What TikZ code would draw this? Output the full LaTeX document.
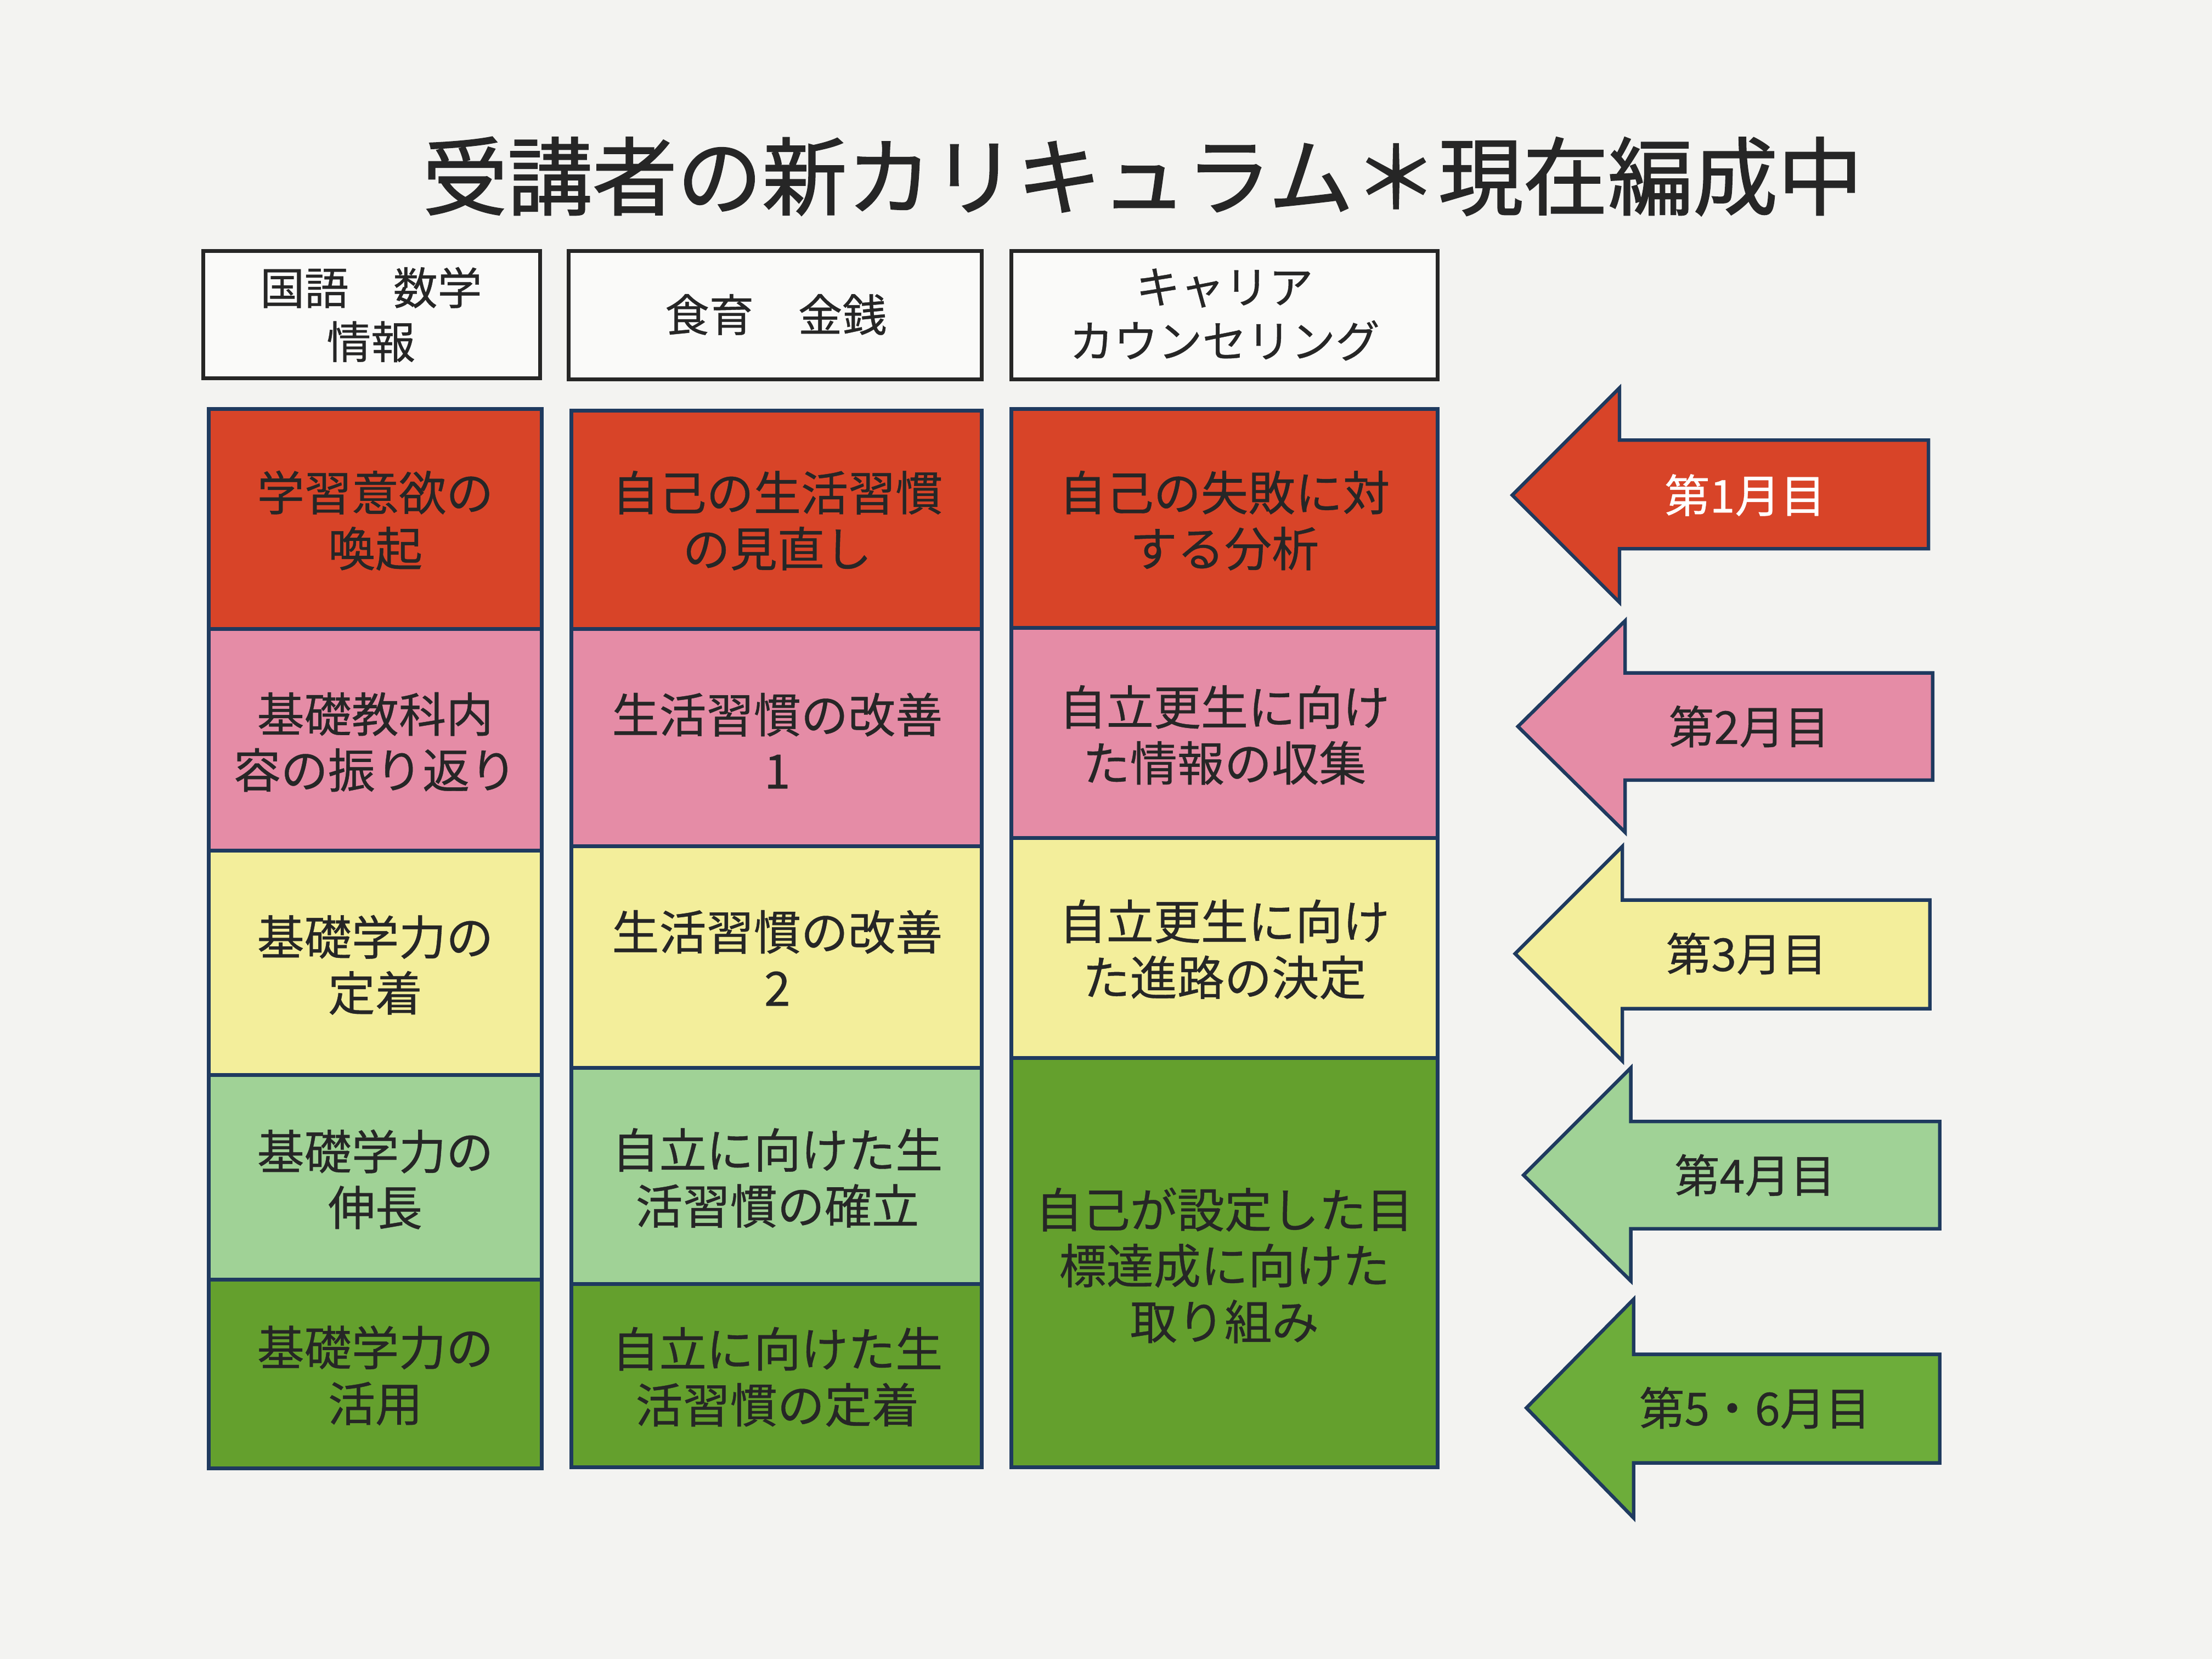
\documentclass[tikz,border=0pt]{standalone}
\usepackage{fontspec}
\setmainfont{Noto Sans CJK JP}
\newfontfamily\heavyjp{Noto Sans CJK JP}[FakeBold=1.4]
\newfontfamily\mediumjp{Noto Sans CJK JP}[FakeBold=0.5]
\usepackage{tikz}
\usepackage{xcolor}
\definecolor{paperc}{HTML}{F3F3F1}
\definecolor{inkc}{HTML}{262626}
\definecolor{edgec}{HTML}{1F3A5F}
\definecolor{redc}{HTML}{D84428}
\definecolor{pinkc}{HTML}{E58CA6}
\definecolor{yellowc}{HTML}{F3EE9B}
\definecolor{lgreenc}{HTML}{A0D296}
\definecolor{greenc}{HTML}{64A02D}
\definecolor{arrowgreenc}{HTML}{6DAD3A}
\tikzset{
  headbox/.style={draw=inkc, line width=2pt, fill=white!60!paperc},
  cell/.style={draw=edgec, line width=2pt, line join=miter},
  month/.style={draw=edgec, line width=1.8pt, line join=miter},
  headtext/.style={text=inkc, align=center, inner sep=0pt, font=\mediumjp\fontsize{23}{28}\selectfont},
  celltext/.style={text=inkc, align=center, inner sep=0pt, font=\mediumjp\fontsize{24.5}{29}\selectfont},
  monthtext/.style={text=inkc, inner sep=0pt, font=\mediumjp\fontsize{23.5}{28}\selectfont},
}

\begin{document}
\begin{tikzpicture}[x=0.2571mm, y=-0.2571mm]
\useasboundingbox[fill=paperc] (0,0) rectangle (1568,1176);
\node[text=inkc, inner sep=0pt, font=\heavyjp\fontsize{44}{50}\selectfont] (title) at (810,125) {受講者の新カリキュラム＊現在編成中};
% column heads
\draw[headbox] (144,178) rectangle (383,268);
\draw[headbox] (403,178) rectangle (696,269);
\draw[headbox] (717,178) rectangle (1019,269);
\node[headtext] (head1) at (263,223) {国語　数学\\情報};
\node[headtext] (head2) at (550,223) {食育　金銭};
\node[headtext] (head3) at (868,223) {キャリア\\カウンセリング};
% first column
\draw[cell, fill=redc] (148,290) rectangle (384,446);
\draw[cell, fill=pinkc] (148,446) rectangle (384,603);
\draw[cell, fill=yellowc] (148,603) rectangle (384,762);
\draw[cell, fill=lgreenc] (148,762) rectangle (384,907);
\draw[cell, fill=greenc] (148,907) rectangle (384,1041);
\node[celltext] (c11) at (266,369) {学習意欲の\\喚起};
\node[celltext] (c12) at (266,526) {基礎教科内\\容の振り返り};
\node[celltext] (c13) at (266,684) {基礎学力の\\定着};
\node[celltext] (c14) at (266,836) {基礎学力の\\伸長};
\node[celltext] (c15) at (266,975) {基礎学力の\\活用};
% second column
\draw[cell, fill=redc] (405,291) rectangle (696,446);
\draw[cell, fill=pinkc] (405,446) rectangle (696,600);
\draw[cell, fill=yellowc] (405,600) rectangle (696,757);
\draw[cell, fill=lgreenc] (405,757) rectangle (696,910);
\draw[cell, fill=greenc] (405,910) rectangle (696,1040);
\node[celltext] (c21) at (551,369) {自己の生活習慣\\の見直し};
\node[celltext] (c22) at (551,525) {生活習慣の改善\\1};
\node[celltext] (c23) at (551,679) {生活習慣の改善\\2};
\node[celltext] (c24) at (551,835) {自立に向けた生\\活習慣の確立};
\node[celltext] (c25) at (551,976) {自立に向けた生\\活習慣の定着};
% third column
\draw[cell, fill=redc] (717,290) rectangle (1019,445);
\draw[cell, fill=pinkc] (717,445) rectangle (1019,594);
\draw[cell, fill=yellowc] (717,594) rectangle (1019,750);
\draw[cell, fill=greenc] (717,750) rectangle (1019,1040);
\node[celltext] (c31) at (868,369) {自己の失敗に対\\する分析};
\node[celltext] (c32) at (868,521) {自立更生に向け\\た情報の収集};
\node[celltext] (c33) at (868,673) {自立更生に向け\\た進路の決定};
\node[celltext] (c34) at (868,897) {自己が設定した目\\標達成に向けた\\取り組み};
% month arrows
\draw[month, fill=redc] (1072,351) -- (1148,275) -- (1148,312) -- (1367,312) -- (1367,389) -- (1148,389) -- (1148,427) -- cycle;
\draw[month, fill=pinkc] (1076,515) -- (1152,440) -- (1152,477) -- (1370,477) -- (1370,553) -- (1152,553) -- (1152,590) -- cycle;
\draw[month, fill=yellowc] (1074,676) -- (1150,600) -- (1150,638) -- (1368,638) -- (1368,715) -- (1150,715) -- (1150,752) -- cycle;
\draw[month, fill=lgreenc] (1080,833) -- (1156,757) -- (1156,795) -- (1375,795) -- (1375,871) -- (1156,871) -- (1156,908) -- cycle;
\draw[month, fill=arrowgreenc] (1082,998) -- (1158,921) -- (1158,960) -- (1375,960) -- (1375,1037) -- (1158,1037) -- (1158,1076) -- cycle;
\node[monthtext, text=white] (m1) at (1237,351) {第1月目};
\node[monthtext] (m2) at (1240,515) {第2月目};
\node[monthtext] (m3) at (1238,676) {第3月目};
\node[monthtext] (m4) at (1244,833) {第4月目};
\node[monthtext] (m5) at (1244,998) {第5・6月目};
\end{tikzpicture}
\end{document}
